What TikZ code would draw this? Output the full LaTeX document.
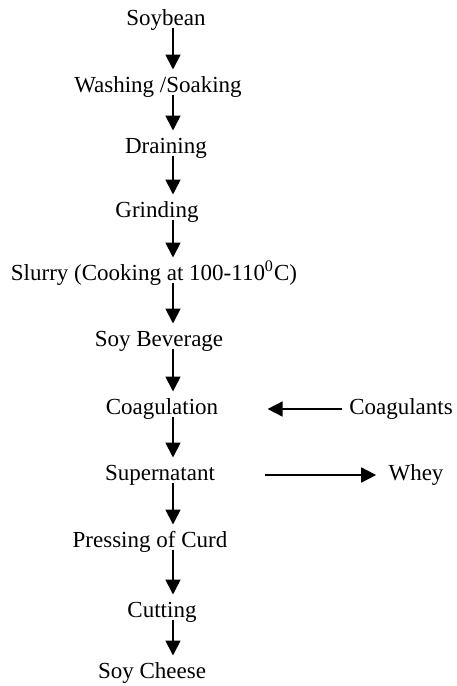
\documentclass[tikz,border=0pt]{standalone}
\usepackage{fontspec}
\setmainfont{Liberation Serif}
\usetikzlibrary{arrows.meta}

\begin{document}
\begin{tikzpicture}[x=0.5pt, y=-0.5pt,
  every node/.style={font=\fontsize{11.5}{13}\selectfont},
  stage/.style={inner xsep=2pt, inner ysep=0pt, text height=7.8pt, text depth=2.3pt},
  flow/.style={-{Triangle[width=7.5pt, length=7.5pt]}, line width=0.9pt, shorten <=-1.5pt, shorten >=3.5pt},
]
\useasboundingbox (0,0) rectangle (456,686);
\coordinate (ax) at (173,0);

\node[stage] (soy) at (166,20) {Soybean};
\node[stage] (wash) at (158,87) {Washing /Soaking};
\node[stage] (drain) at (166,148) {Draining};
\node[stage] (grind) at (157,212) {Grinding};
\node[stage] (slurry) at (154,275) {Slurry (Cooking at 100-110\textsuperscript{0}C)};
\node[stage] (bev) at (159,341) {Soy Beverage};
\node[stage] (coag) at (162,409) {Coagulation};
\node[stage] (super) at (160,475) {Supernatant};
\node[stage] (press) at (150,542) {Pressing of Curd};
\node[stage] (cut) at (162,612) {Cutting};
\node[stage] (cheese) at (152,673) {Soy Cheese};

\node[stage] (agents) at (401,409) {Coagulants};
\node[stage] (whey) at (416,475) {Whey};

\draw[flow] (soy.south -| ax) -- (wash.north -| ax);
\draw[flow] (wash.south -| ax) -- (drain.north -| ax);
\draw[flow] (drain.south -| ax) -- (grind.north -| ax);
\draw[flow] (grind.south -| ax) -- (slurry.north -| ax);
\draw[flow] (slurry.south -| ax) -- (bev.north -| ax);
\draw[flow] (bev.south -| ax) -- (coag.north -| ax);
\draw[flow] (coag.south -| ax) -- (super.north -| ax);
\draw[flow] (super.south -| ax) -- (press.north -| ax);
\draw[flow] (press.south -| ax) -- (cut.north -| ax);
\draw[flow] (cut.south -| ax) -- (cheese.north -| ax);

\draw[flow, shorten <=1.5pt, shorten >=22.5pt] (agents.west) -- (coag.east);
\draw[flow, shorten <=23pt, shorten >=4pt] (super.east) -- (whey.west);
\end{tikzpicture}
\end{document}
